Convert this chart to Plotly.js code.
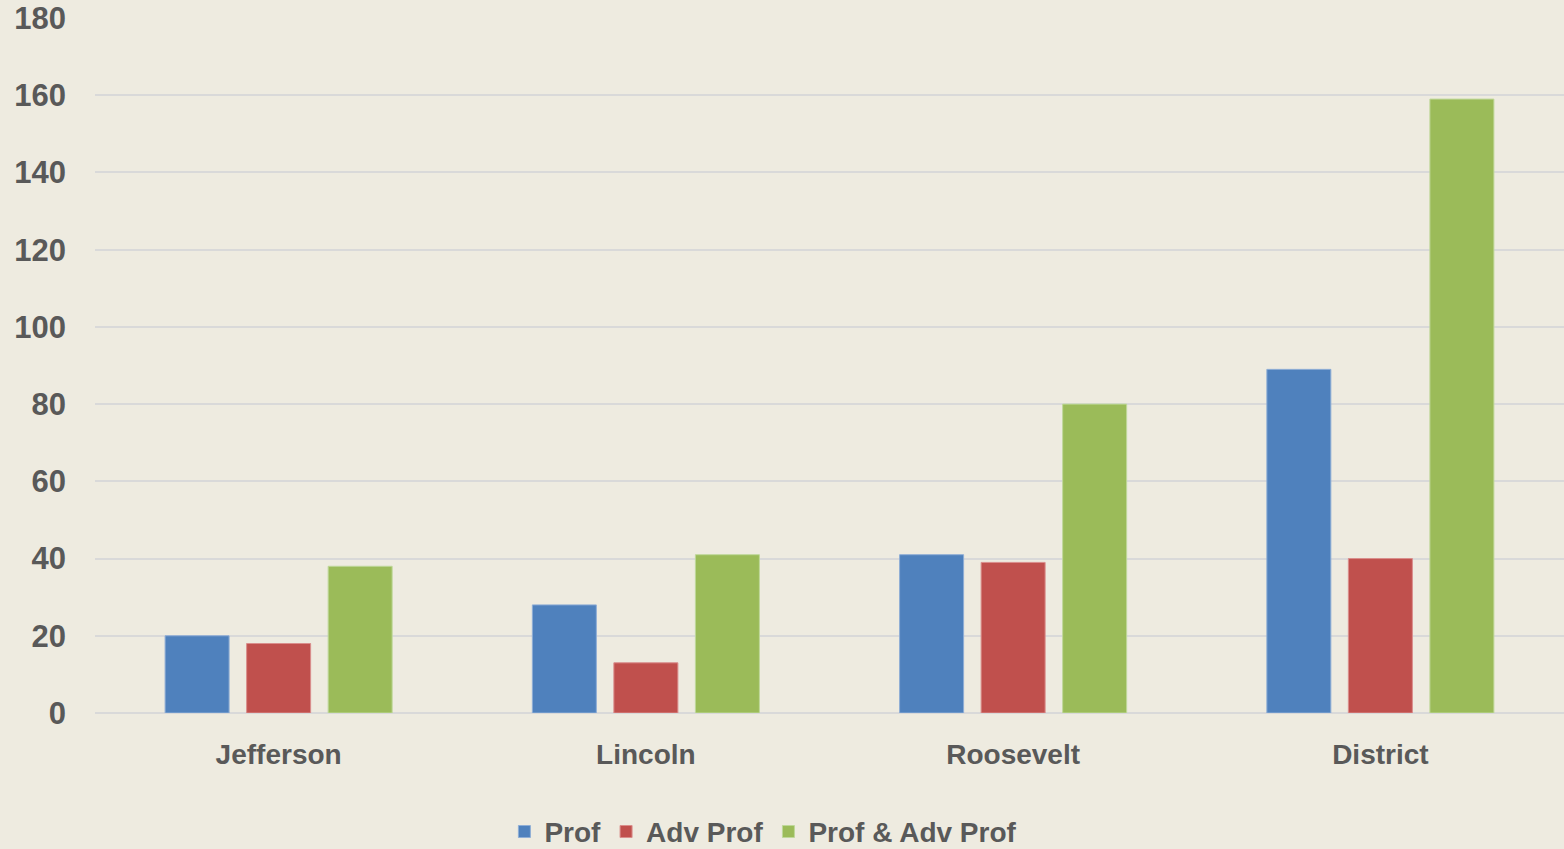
<!DOCTYPE html>
<html><head><meta charset="utf-8">
<script src="https://cdn.plot.ly/plotly-3.0.1.min.js"></script>
<style>html,body{margin:0;padding:0;background:#EEEBE0;}#chart{width:1564px;height:849px;}</style>
</head><body><div id="chart"></div>
<script>
const categories = ["Jefferson", "Lincoln", "Roosevelt", "District"];
const prof = [20, 28, 41, 89];
const advProf = [18, 13, 39, 40];
const profAndAdv = [38, 41, 80, 159];
const seriesNames = ["Prof", "Adv Prof", "Prof & Adv Prof"];
const colors = ["#4F81BD", "#C0504D", "#9BBB59"];
const lineColors = ["#8FAED6", "#DA8E8C", "#BFD89A"];

const font = {family: "Liberation Sans, Arial, sans-serif", color: "#595959"};
const data = [prof, advProf, profAndAdv].map((vals, i) => ({
  type: "bar", x: categories, y: vals, name: seriesNames[i],
  marker: {color: colors[i], line: {color: lineColors[i], width: 1}},
  hoverinfo: "x+y+name"
}));

const layout = {
  width: 1564, height: 849,
  paper_bgcolor: "#EEEBE0", plot_bgcolor: "#EEEBE0",
  margin: {l: 95, r: 0, t: 18, b: 136, autoexpand: false},
  bargap: 0.334, bargroupgap: 0.215,
  font: Object.assign({size: 28, weight: 600}, font),
  xaxis: {
    showgrid: false, zeroline: false, showline: false,
    ticks: "", ticklabelstandoff: 22,
    tickfont: Object.assign({size: 28, weight: 600}, font)
  },
  yaxis: {
    range: [0, 180], dtick: 20, tick0: 0,
    showgrid: true, gridcolor: "#D9D9D9", gridwidth: 2,
    zeroline: true, zerolinecolor: "#D9D9D9", zerolinewidth: 2,
    showline: false, ticks: "", ticklabelstandoff: 28,
    tickfont: Object.assign({size: 31, weight: 600}, font)
  },
  showlegend: true,
  legend: {
    orientation: "h", x: 0.455, xanchor: "center", y: -0.135, yanchor: "top",
    font: Object.assign({size: 28, weight: 600}, font),
    bgcolor: "rgba(0,0,0,0)", itemwidth: 30, tracegroupgap: 0
  }
};
Plotly.newPlot("chart", data, layout, {displayModeBar: false});
</script></body></html>
